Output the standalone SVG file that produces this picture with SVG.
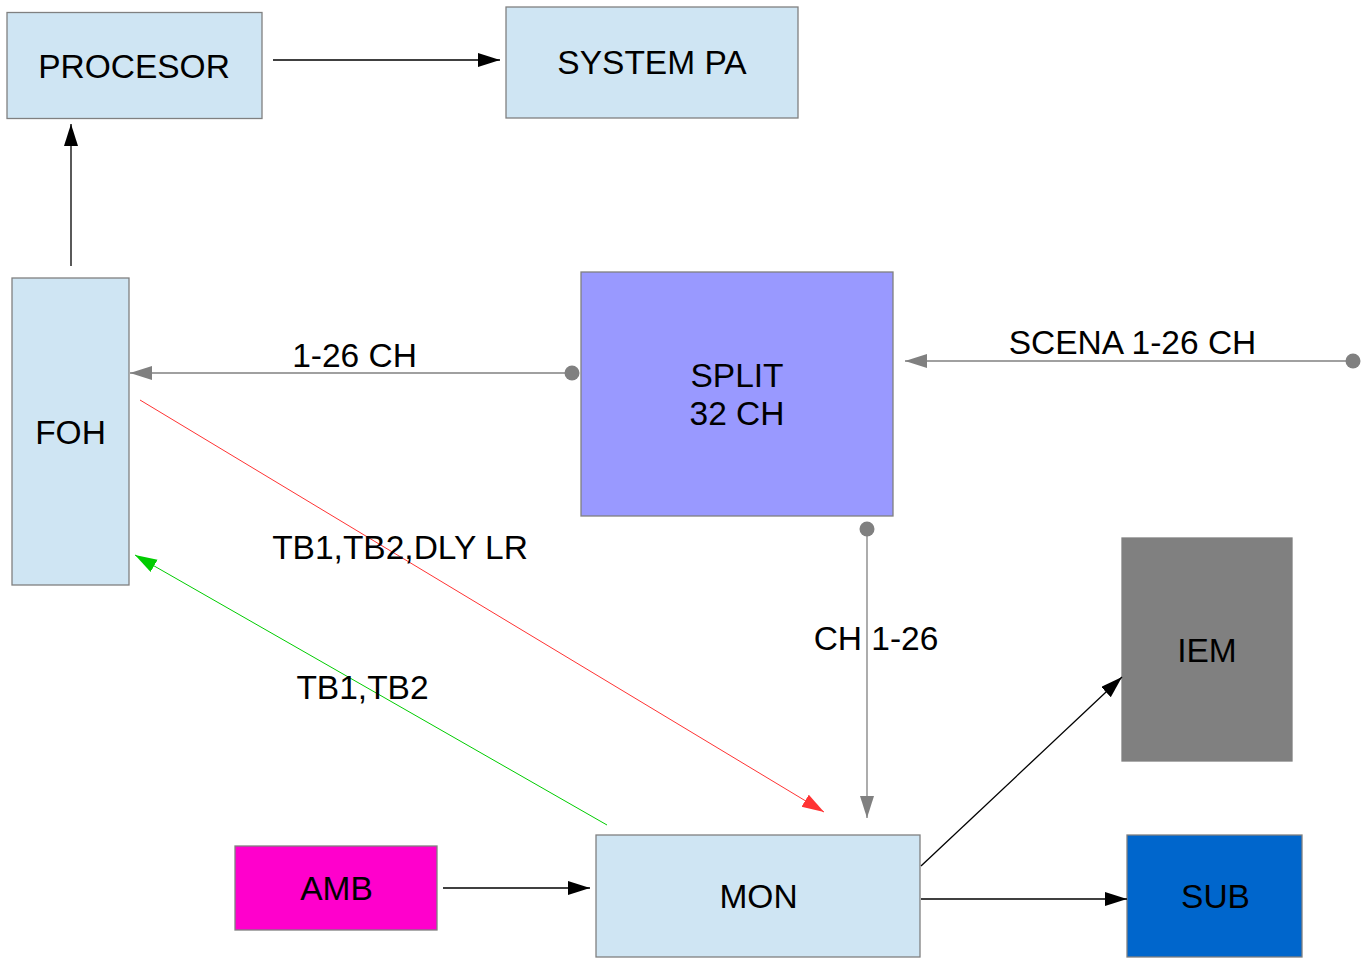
<svg xmlns="http://www.w3.org/2000/svg" width="1361" height="958" viewBox="0 0 1361 958">
<style>
.box{stroke:#808080;stroke-width:1.3}
.lb{fill:#cfe5f3}
.t{font-family:"Liberation Sans",Arial,sans-serif;font-size:33.5px;fill:#000;text-anchor:middle}
.blk{stroke:#000;stroke-width:1.3;fill:none}
.gry{stroke:#808080;stroke-width:1.3;fill:none}
</style>
<defs>
<marker id="ab" markerUnits="userSpaceOnUse" markerWidth="24" markerHeight="16" refX="22" refY="7" orient="auto" viewBox="0 0 24 16"><path d="M0,0 L22,7 L0,14 Z" fill="#000"/></marker>
<marker id="ag" markerUnits="userSpaceOnUse" markerWidth="24" markerHeight="16" refX="22" refY="7" orient="auto" viewBox="0 0 24 16"><path d="M0,0 L22,7 L0,14 Z" fill="#808080"/></marker>
<marker id="ar" markerUnits="userSpaceOnUse" markerWidth="24" markerHeight="16" refX="22" refY="7" orient="auto" viewBox="0 0 24 16"><path d="M0,0 L22,7 L0,14 Z" fill="#ff3333"/></marker>
<marker id="agr" markerUnits="userSpaceOnUse" markerWidth="24" markerHeight="16" refX="22" refY="7" orient="auto" viewBox="0 0 24 16"><path d="M0,0 L22,7 L0,14 Z" fill="#00cc00"/></marker>
<marker id="dot" markerUnits="userSpaceOnUse" markerWidth="16" markerHeight="16" refX="8" refY="8" orient="auto" viewBox="0 0 16 16"><circle cx="8" cy="8" r="7.5" fill="#808080"/></marker>
</defs>
<rect width="1361" height="958" fill="#fff"/>
<g id="procesor"><rect class="box lb" x="7" y="12.5" width="255" height="106"/><text class="t" x="134" y="77.5">PROCESOR</text></g>
<g id="systempa"><rect class="box lb" x="506" y="7" width="292" height="111"/><text class="t" x="652" y="73.5">SYSTEM PA</text></g>
<g id="foh"><rect class="box lb" x="12" y="278" width="117" height="307"/><text class="t" x="70.5" y="443.5">FOH</text></g>
<g id="split"><rect class="box" fill="#9999ff" x="581" y="272" width="312" height="244"/><text class="t" x="737" y="386.5">SPLIT</text><text class="t" x="737" y="424.5">32 CH</text></g>
<g id="iem"><rect class="box" fill="#808080" x="1122" y="538" width="170" height="223"/><text class="t" x="1207" y="661.5">IEM</text></g>
<g id="mon"><rect class="box lb" x="596" y="835" width="324" height="122"/><text class="t" x="758.5" y="907.5">MON</text></g>
<g id="sub"><rect class="box" fill="#0066cc" x="1127" y="835" width="175" height="122"/><text class="t" x="1215.5" y="907.5">SUB</text></g>
<g id="amb"><rect class="box" fill="#ff00cc" x="235" y="846" width="202" height="84"/><text class="t" x="336.5" y="899.5">AMB</text></g>
<g id="connectors">
<line class="blk" x1="273" y1="60" x2="500" y2="60" marker-end="url(#ab)"/>
<line class="blk" x1="71" y1="266" x2="71" y2="124" marker-end="url(#ab)"/>
<line class="gry" x1="572" y1="373" x2="130" y2="373" marker-start="url(#dot)" marker-end="url(#ag)"/>
<line class="gry" x1="1353" y1="361" x2="905" y2="361" marker-start="url(#dot)" marker-end="url(#ag)"/>
<line class="gry" x1="867" y1="529" x2="867" y2="818" marker-start="url(#dot)" marker-end="url(#ag)"/>
<line stroke="#ff3333" stroke-width="1" x1="140" y1="400" x2="824" y2="812" marker-end="url(#ar)"/>
<line stroke="#00cc00" stroke-width="1" x1="607" y1="825" x2="135" y2="555" marker-end="url(#agr)"/>
<line class="blk" x1="443" y1="888" x2="590" y2="888" marker-end="url(#ab)"/>
<line class="blk" x1="921" y1="899" x2="1127" y2="899" marker-end="url(#ab)"/>
<line class="blk" x1="921" y1="866" x2="1122" y2="677" marker-end="url(#ab)"/>
<text class="t" x="354.5" y="366.5">1-26 CH</text>
<text class="t" x="1132.5" y="353.5">SCENA 1-26 CH</text>
<text class="t" x="876" y="649.5">CH 1-26</text>
<text class="t" x="400" y="558.5">TB1,TB2,DLY LR</text>
<text class="t" x="362.5" y="698.5">TB1,TB2</text>
</g>
</svg>
